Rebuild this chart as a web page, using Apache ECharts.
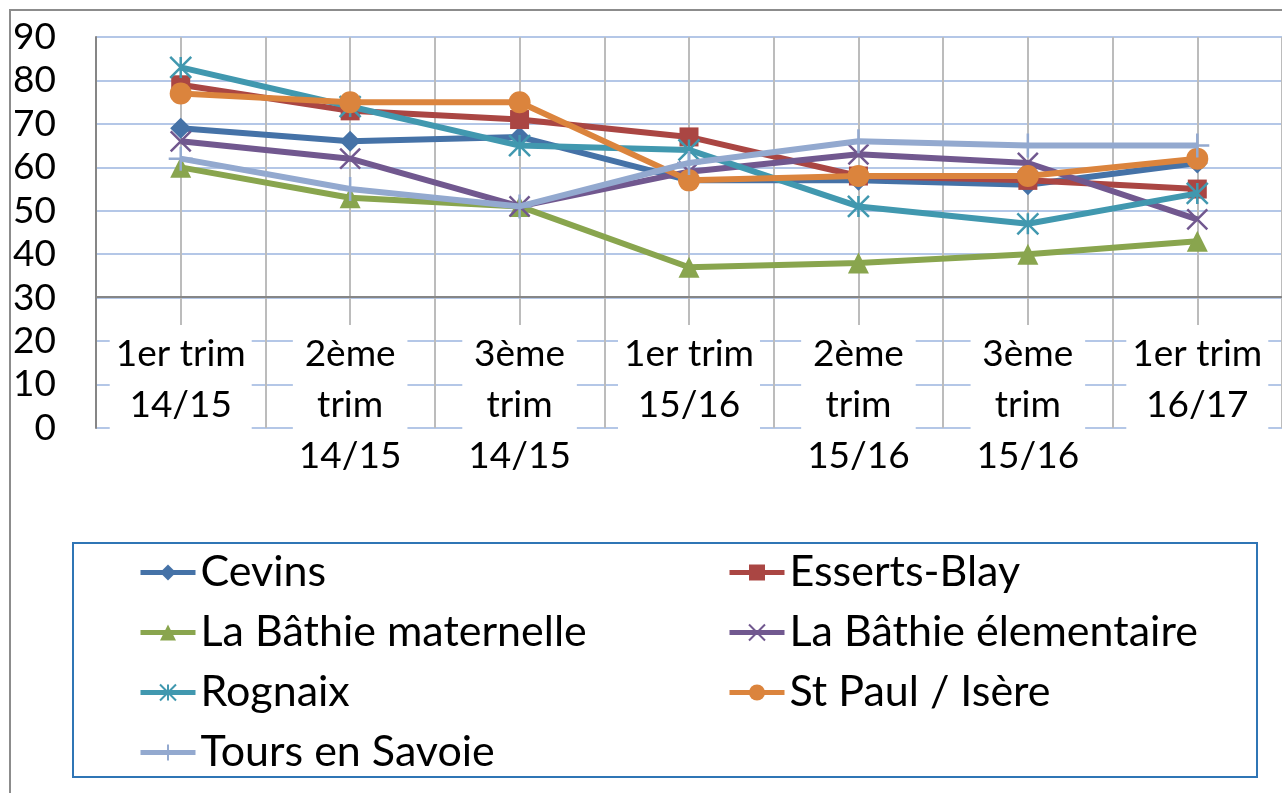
<!DOCTYPE html>
<html>
<head>
<meta charset="utf-8">
<script src="https://cdn.jsdelivr.net/npm/echarts@6/dist/echarts.min.js"></script>
<style>
  html, body { margin: 0; padding: 0; background: #fff; }
  #chart { width: 1282px; height: 793px; }
</style>
</head>
<body>
<div id="chart"></div>
<script>
  // trimestres
  var categories = ['1er trim 14/15', '2ème trim 14/15', '3ème trim 14/15', '1er trim 15/16',
                    '2ème trim 15/16', '3ème trim 15/16', '1er trim 16/17'];
  var yTicks = [0, 10, 20, 30, 40, 50, 60, 70, 80, 90];

  // valeurs
  var cevins       = [69, 66, 67, 57, 57, 56, 61];
  var essertsBlay  = [79, 73, 71, 67, 58, 57, 55];
  var bathieMat    = [60, 53, 51, 37, 38, 40, 43];
  var bathieElem   = [66, 62, 51, 59, 63, 61, 48];
  var rognaix      = [83, 74, 65, 64, 51, 47, 54];
  var stPaul       = [77, 75, 75, 57, 58, 58, 62];
  var toursSavoie  = [62, 55, 51, 61, 66, 65, 65];

  var seriesNames = ['Cevins', 'Esserts-Blay', 'La Bâthie maternelle', 'La Bâthie élementaire',
                     'Rognaix', 'St Paul / Isère', 'Tours en Savoie'];
  var seriesData = [cevins, essertsBlay, bathieMat, bathieElem, rognaix, stPaul, toursSavoie];
  var colors = ['#4572A7', '#AA4643', '#89A54E', '#71588F', '#4198AF', '#DB843D', '#93A9CF'];
  var symbols = [
    'diamond',
    'rect',
    'triangle',
    'path://M0,0L10,10M10,0L0,10',            // croix
    'path://M0,0L10,10M10,0L0,10M5,0L5,10',   // étoile
    'circle',
    'path://M5,0L5,10M0,5L10,5'               // plus
  ];
  var symbolSizes = [21, 19, 21, 20, 21, 22, 24];
  var strokeOnly = [false, false, false, true, true, false, true];

  var FONT = 'Lato';
  var X_FONT_SIZE = 37;
  var X_LABEL_WIDTH = 150;

  // retour à la ligne par mots, comme Excel
  var ctx = document.createElement('canvas').getContext('2d');
  ctx.font = X_FONT_SIZE + 'px ' + FONT;
  function wrapWords(text) {
    var words = text.split(' ');
    var lines = [];
    var cur = '';
    for (var i = 0; i < words.length; i++) {
      var test = cur ? cur + ' ' + words[i] : words[i];
      if (cur && ctx.measureText(test).width > X_LABEL_WIDTH) {
        lines.push(cur);
        cur = words[i];
      } else {
        cur = test;
      }
    }
    lines.push(cur);
    return lines.join('\n');
  }

  var series = seriesNames.map(function (name, i) {
    return {
      name: name,
      type: 'line',
      data: seriesData[i],
      xAxisIndex: 0,
      symbol: symbols[i],
      symbolSize: symbolSizes[i],
      showAllSymbol: true,
      z: 10 + i,
      lineStyle: { width: 6, color: colors[i] },
      itemStyle: strokeOnly[i]
        ? { color: colors[i], borderColor: colors[i], borderWidth: 2.5 }
        : { color: colors[i] },
      emphasis: { disabled: true }
    };
  });

  var legendCommon = {
    orient: 'vertical',
    top: 546,
    itemWidth: 55,
    itemHeight: 20,
    itemGap: 17,
    selectedMode: false,
    lineStyle: { width: 5 },
    textStyle: { fontFamily: FONT, fontSize: 43, color: '#000', lineHeight: 42 }
  };

  var chart = echarts.init(document.getElementById('chart'));
  var option = {
    animation: false,
    color: colors,
    textStyle: { fontFamily: FONT },
    grid: { left: 96, top: 37, right: -5, bottom: 365 },
    graphic: [
      {
        type: 'polyline',
        shape: { points: [[10, 793], [10, 10], [1282, 10]] },
        style: { stroke: '#8c8c8c', lineWidth: 2, fill: null },
        silent: true
      },
      {
        type: 'rect',
        shape: { x: 73, y: 543, width: 1184, height: 234 },
        style: { stroke: '#2f75b5', lineWidth: 2, fill: null },
        silent: true
      }
    ],
    legend: [
      Object.assign({
        data: [seriesNames[0], seriesNames[2], seriesNames[4], seriesNames[6]],
        left: 133
      }, legendCommon),
      Object.assign({
        data: [seriesNames[1], seriesNames[3], seriesNames[5]],
        left: 722
      }, legendCommon)
    ],
    xAxis: [
      {
        type: 'category',
        data: categories,
        boundaryGap: true,
        position: 'bottom',
        offset: -131,
        axisLine: { show: true, lineStyle: { color: '#868686', width: 2 } },
        axisTick: { show: false },
        splitLine: { show: false },
        axisLabel: {
          interval: 0,
          margin: 28,
          fontSize: X_FONT_SIZE,
          fontFamily: FONT,
          color: '#000',
          lineHeight: 51,
          backgroundColor: '#fff',
          padding: [4, 6, 0, 6],
          formatter: wrapWords
        },
        z: 5
      },
      {
        // lignes verticales du quadrillage (milieux et limites des catégories)
        type: 'value',
        min: -0.5,
        max: 6.5,
        interval: 0.5,
        position: 'bottom',
        axisLine: { show: false },
        axisTick: { show: false },
        axisLabel: { show: false },
        splitLine: { show: true, lineStyle: { color: '#bcbcbc', width: 2 } }
      }
    ],
    yAxis: {
      type: 'value',
      min: yTicks[0],
      max: yTicks[yTicks.length - 1],
      interval: 10,
      axisLine: { show: true, onZero: false, lineStyle: { color: '#868686', width: 2 } },
      axisTick: { show: false },
      axisLabel: { fontSize: 37, fontFamily: FONT, color: '#000', margin: 40 },
      splitLine: { show: true, lineStyle: { color: '#b4c7e7', width: 2 } }
    },
    series: series
  };
  chart.setOption(option);
</script>
</body>
</html>
